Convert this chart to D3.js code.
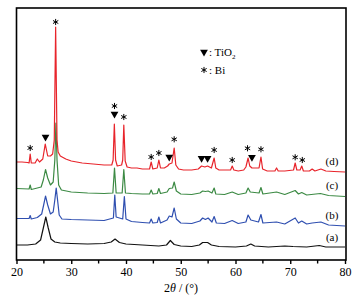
<!DOCTYPE html>
<html>
<head>
<meta charset="utf-8">
<script src="https://cdn.jsdelivr.net/npm/d3@7/dist/d3.min.js"></script>
<style>
	body { margin: 0; background: #fff; }
	text { font-family: "Liberation Serif", "DejaVu Serif", serif; }
</style>
</head>
<body>
<svg id="xrd"></svg>
<script>
// 2theta / intensity (a.u., curves already offset)
const seriesA = [[20,15],[22,15],[23.5,16],[24.4,20],[24.9,32],[25.35,43],[25.8,32],[26.3,21],[27,18],[28,17],[30,16.5],[33,16],[36,16.5],[37.3,18],[38,21],[38.8,17.5],[40,16],[43,15],[46,14],[47.4,15],[48.1,19.5],[48.8,15.5],[50,14],[52,13.5],[53.4,15],[54,17.5],[54.9,17.5],[55.6,15],[57,13.5],[60,13],[62,14],[62.8,16],[63.5,14],[66,13],[69,14],[70.5,13.5],[73,13],[75.3,14.5],[76.5,13],[78,13],[80,13]];

const seriesB = [[20,41.5],[22.3,41.5],[22.5,44.5],[22.7,41],[23.8,42.5],[24.6,46],[25,56],[25.3,64],[25.7,55],[26.2,46],[26.7,48],[27,60],[27.25,72],[27.5,60],[27.8,45],[28.3,41],[30,40.5],[33,40],[36,39.5],[37.7,42],[37.95,65],[38.2,43],[39.4,41],[39.7,63.5],[40,41],[41,38.5],[43,37.5],[44.3,37],[44.6,41],[44.9,37],[45.7,37.5],[46,43],[46.3,37],[47.5,40],[47.9,44],[48.4,43],[48.8,52],[49.2,41],[50,37],[52,36.5],[53.5,39],[54,42],[54.5,40.5],[55,42],[55.7,38],[56.1,43.5],[56.5,37],[58,36.5],[59.4,39.5],[60.5,36.5],[61.9,38],[62.3,45],[62.8,40],[64.2,38],[64.65,45.5],[65,37],[67.5,38],[69,36],[70.9,42],[71.5,37],[72.1,39],[73,36],[74,37],[75.6,38],[77,35],[80,34]];

const seriesC = [[20,71.5],[22.3,71],[22.5,75],[22.7,70.5],[23.8,72],[24.5,73],[24.9,80],[25.3,90.5],[25.7,82],[26.2,75],[26.7,78],[27,100],[27.2,137],[27.4,100],[27.7,75],[28.2,70],[30,68],[33,67],[36,66.5],[37.6,67],[37.9,92],[38.2,67],[39.3,67],[39.6,90.5],[39.9,67],[41,66.5],[43,66],[44.3,66],[44.6,70],[44.9,66],[45.7,66.5],[46,71.5],[46.3,66.5],[47.5,68],[47.9,71.5],[48.5,72],[48.8,78],[49.2,69],[50,66],[52,65.5],[53.5,67],[54,69],[54.5,68.5],[55,69],[55.7,67],[56.1,72],[56.4,66],[58,65.5],[59.4,68],[60.5,65.5],[61.9,67],[62.3,72],[62.7,68],[64.3,67],[64.65,72.5],[65,66],[67.5,68],[69,65.5],[70.9,69.5],[71.5,66],[72.1,67.5],[73,65],[75.5,66.5],[77,64.5],[80,63.5]];

const seriesD = [[20,98],[21,98],[22,97.5],[22.3,97],[22.5,106],[22.7,97],[23.4,97],[23.8,101],[24.2,98],[24.8,101],[25.25,116],[25.7,104],[26.2,104],[26.6,106],[26.9,120],[27.15,233],[27.4,120],[27.6,108],[28,104],[29,101],[30,99],[32,97],[34,96],[36,95],[37.4,95],[37.65,100],[37.87,136],[38.1,100],[38.4,94],[39.2,95],[39.4,100],[39.6,135],[39.85,99],[40.2,93],[41,92],[42,92],[43,91],[44.3,91],[44.6,98],[44.9,91],[45.7,92],[46,100],[46.3,92],[47,92],[47.6,94],[47.9,96],[48.4,97],[48.8,112],[49.1,95],[49.6,91],[50.5,90],[52,90],[53.2,91],[53.8,94],[54.4,93],[54.9,94],[55.6,92],[56.1,102],[56.4,92],[57,90],[58,90],[59.1,90],[59.4,94],[59.7,90],[60.5,89],[61.5,90],[61.9,93],[62.3,102],[62.6,94],[63,92],[64.3,92],[64.65,103],[64.95,91],[65.8,89],[67.2,89],[67.5,92],[67.8,89],[69,89],[70.6,90],[70.9,97],[71.2,90],[71.8,90],[72.1,94],[72.4,89],[73.5,89],[74,91],[74.5,89],[75.6,91],[76.5,89],[78,88.5],[80,88]];

const seriesNames = ['(a)', '(b)', '(c)', '(d)'];
const seriesColors = ['#111111', '#2f4fb0', '#3c8a44', '#e8242b'];
const labelLevels = [23, 45, 75, 99];

// phase markers over curve (d)
const biPeaks = [[22.5,112],[27.15,238],[37.9,154],[39.6,143],[44.6,103],[46,107],[48.8,120.7],[56.1,110],[59.4,100],[62.2,111.7],[64.65,110.7],[70.9,102.7],[72.2,100]];
const tio2Peaks = [[25.3,123],[37.9,146],[47.9,103],[53.8,101.7],[54.9,101.7],[63,102.7]];

const xTicks = [20, 30, 40, 50, 60, 70, 80];
const xMinor = [25, 35, 45, 55, 65, 75];

function makeChart() {
	let w = 362;
	let h = 297;
	let left = 16.5, right = 345, top = 8, bottom = 260;

	let svg = d3.select('#xrd')
		.attr('width', w)
		.attr('height', h);

	let x = d3.scaleLinear().domain([20, 80]).range([left, right]);
	let y = d3.scaleLinear().domain([0, 252]).range([bottom, top]);

	let line = d3.line()
		.x(d => x(d[0]))
		.y(d => y(d[1]));

	[seriesA, seriesB, seriesC, seriesD].forEach((s, i) => {
		svg.append('path')
			.datum(s)
			.attr('fill', 'none')
			.attr('stroke', seriesColors[i])
			.attr('stroke-width', 1.2)
			.attr('stroke-linejoin', 'round')
			.attr('d', line);
	});

	// frame
	svg.append('rect')
		.attr('x', left)
		.attr('y', top)
		.attr('width', right - left + 1)
		.attr('height', bottom - top)
		.attr('fill', 'none')
		.attr('stroke', '#000')
		.attr('stroke-width', 1.6);

	let axis = svg.append('g')
		.attr('transform', `translate(0,${bottom})`)
		.call(d3.axisBottom(x).tickValues(xTicks).tickSize(4).tickPadding(3).tickFormat(d3.format('d')));
	axis.select('.domain').remove();
	axis.selectAll('.tick line').attr('stroke-width', 1.4);
	axis.selectAll('text').style('font-size', '12px').attr('fill', '#000');

	svg.append('g')
		.attr('transform', `translate(0,${bottom})`)
		.selectAll('line')
		.data(xMinor)
		.enter()
		.append('line')
		.attr('x1', d => x(d))
		.attr('x2', d => x(d))
		.attr('y1', 0)
		.attr('y2', 3.5)
		.attr('stroke', '#000')
		.attr('stroke-width', 1.4);

	let xl = svg.append('text')
		.attr('x', 181)
		.attr('y', 292)
		.style('text-anchor', 'middle')
		.style('font-size', '12px');
	xl.append('tspan').text('2');
	xl.append('tspan').style('font-style', 'italic').text('θ');
	xl.append('tspan').text(' / (°)');

	// curve labels
	svg.selectAll('text.curve')
		.data(seriesNames)
		.enter()
		.append('text')
		.classed('curve', true)
		.attr('x', 332)
		.attr('y', (d, i) => y(labelLevels[i]) + 4)
		.style('text-anchor', 'middle')
		.style('font-size', '11px')
		.text(d => d);

	let star = d3.symbol().type(d3.symbolAsterisk).size(26);
	let tri = d3.symbol().type(d3.symbolTriangle).size(26);

	svg.selectAll('path.bi')
		.data(biPeaks)
		.enter()
		.append('path')
		.classed('bi', true)
		.attr('d', star)
		.attr('fill', 'none')
		.attr('stroke', '#000')
		.attr('stroke-width', 1)
		.attr('transform', d => `translate(${x(d[0])},${y(d[1])})`);

	svg.selectAll('path.tio2')
		.data(tio2Peaks)
		.enter()
		.append('path')
		.classed('tio2', true)
		.attr('d', tri)
		.attr('fill', '#000')
		.attr('transform', d => `translate(${x(d[0])},${y(d[1])}) rotate(180)`);

	// legend
	svg.append('path')
		.attr('d', tri)
		.attr('fill', '#000')
		.attr('transform', 'translate(204,52) rotate(180)');
	let lt = svg.append('text')
		.attr('x', 209)
		.attr('y', 56)
		.style('font-size', '11px');
	lt.append('tspan').text(': TiO');
	lt.append('tspan').attr('dy', 3).style('font-size', '7px').text('2');

	svg.append('path')
		.attr('d', star)
		.attr('fill', 'none')
		.attr('stroke', '#000')
		.attr('stroke-width', 1)
		.attr('transform', 'translate(204,70)');
	svg.append('text')
		.attr('x', 209)
		.attr('y', 74)
		.style('font-size', '11px')
		.text(': Bi');
}

window.onload = function () {
	makeChart();
}
</script>
</body>
</html>
